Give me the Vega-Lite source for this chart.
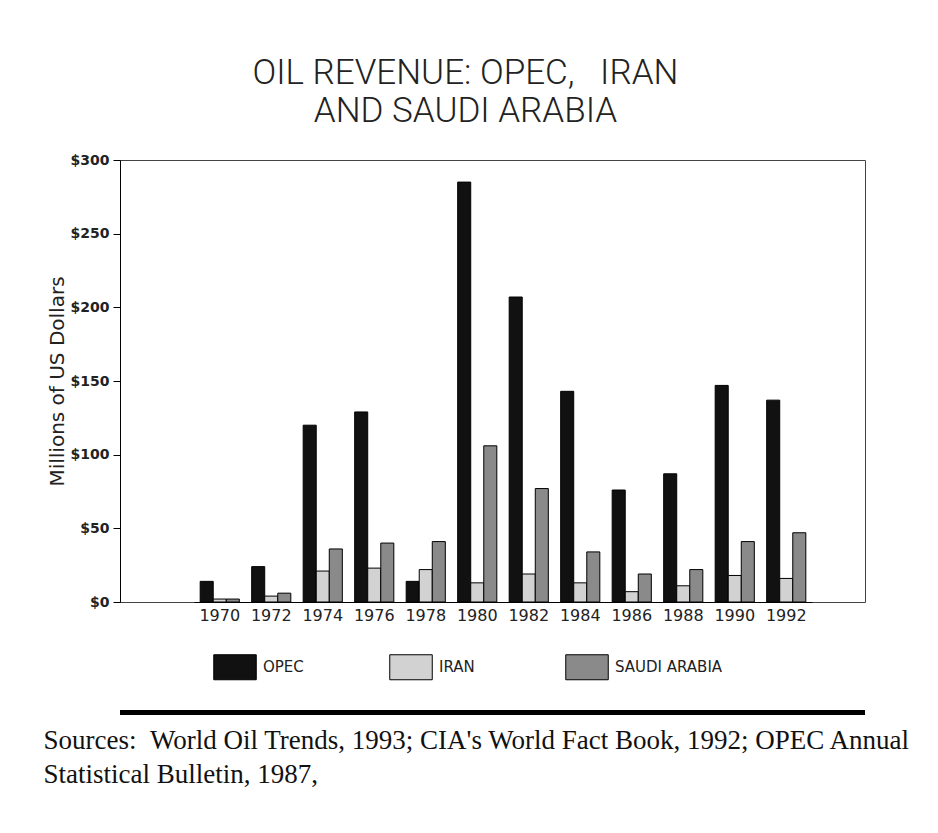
{
  "$schema": "https://vega.github.io/schema/vega-lite/v6.json",
  "autosize": {"type": "none"},
  "width": 745,
  "height": 442,
  "padding": {"left": 120, "top": 160, "right": 73, "bottom": 231},
  "background": "white",
  "title": {
    "text": ["OIL REVENUE: OPEC,\u00a0\u00a0 IRAN", "AND SAUDI ARABIA"],
    "font": "Roboto",
    "fontSize": 35,
    "fontWeight": 300,
    "lineHeight": 38,
    "anchor": "middle",
    "dx": -27,
    "offset": 24,
    "color": "#222222"
  },
  "config": {
    "view": {"stroke": "#444444", "strokeWidth": 1},
    "axis": {"domainColor": "black", "tickColor": "black", "labelColor": "#222222", "titleColor": "#222222", "grid": false}
  },
  "data": {
    "values": [
      {"year": "1970", "series": "OPEC", "value": 14},
      {"year": "1970", "series": "IRAN", "value": 2},
      {"year": "1970", "series": "SAUDI ARABIA", "value": 2},
      {"year": "1972", "series": "OPEC", "value": 24},
      {"year": "1972", "series": "IRAN", "value": 4},
      {"year": "1972", "series": "SAUDI ARABIA", "value": 6},
      {"year": "1974", "series": "OPEC", "value": 120},
      {"year": "1974", "series": "IRAN", "value": 21},
      {"year": "1974", "series": "SAUDI ARABIA", "value": 36},
      {"year": "1976", "series": "OPEC", "value": 129},
      {"year": "1976", "series": "IRAN", "value": 23},
      {"year": "1976", "series": "SAUDI ARABIA", "value": 40},
      {"year": "1978", "series": "OPEC", "value": 14},
      {"year": "1978", "series": "IRAN", "value": 22},
      {"year": "1978", "series": "SAUDI ARABIA", "value": 41},
      {"year": "1980", "series": "OPEC", "value": 285},
      {"year": "1980", "series": "IRAN", "value": 13},
      {"year": "1980", "series": "SAUDI ARABIA", "value": 106},
      {"year": "1982", "series": "OPEC", "value": 207},
      {"year": "1982", "series": "IRAN", "value": 19},
      {"year": "1982", "series": "SAUDI ARABIA", "value": 77},
      {"year": "1984", "series": "OPEC", "value": 143},
      {"year": "1984", "series": "IRAN", "value": 13},
      {"year": "1984", "series": "SAUDI ARABIA", "value": 34},
      {"year": "1986", "series": "OPEC", "value": 76},
      {"year": "1986", "series": "IRAN", "value": 7},
      {"year": "1986", "series": "SAUDI ARABIA", "value": 19},
      {"year": "1988", "series": "OPEC", "value": 87},
      {"year": "1988", "series": "IRAN", "value": 11},
      {"year": "1988", "series": "SAUDI ARABIA", "value": 22},
      {"year": "1990", "series": "OPEC", "value": 147},
      {"year": "1990", "series": "IRAN", "value": 18},
      {"year": "1990", "series": "SAUDI ARABIA", "value": 41},
      {"year": "1992", "series": "OPEC", "value": 137},
      {"year": "1992", "series": "IRAN", "value": 16},
      {"year": "1992", "series": "SAUDI ARABIA", "value": 47}
    ]
  },
  "layer": [
    {
      "mark": {"type": "bar", "stroke": "black", "strokeWidth": 1},
      "encoding": {
        "x": {
          "field": "year",
          "type": "ordinal",
          "scale": {"range": [74, 692], "paddingInner": 0.24, "paddingOuter": 0.12},
          "axis": {
            "title": ["Sources:\u00a0\u00a0World Oil Trends, 1993; CIA's World Fact Book, 1992; OPEC Annual", "Statistical Bulletin, 1987,"],
            "titleFont": "Liberation Serif",
            "titleFontSize": 27,
            "titleFontWeight": "normal",
            "titleX": -77,
            "titleY": 146,
            "titleAlign": "left",
            "titleBaseline": "alphabetic",
            "titleLineHeight": 34,
            "titleColor": "#111111",
            "labelAngle": 0,
            "labelFont": "DejaVu Sans",
            "labelFontSize": 16,
            "labelPadding": 5,
            "ticks": false
          }
        },
        "xOffset": {"field": "series", "sort": ["OPEC", "IRAN", "SAUDI ARABIA"]},
        "y": {
          "field": "value",
          "type": "quantitative",
          "scale": {"domain": [0, 300]},
          "axis": {
            "title": "Millions of US Dollars",
            "titleFont": "DejaVu Sans",
            "titleFontSize": 20,
            "titleFontWeight": "normal",
            "titlePadding": 3,
            "values": [0, 50, 100, 150, 200, 250, 300],
            "labelExpr": "'$' + datum.value",
            "labelFont": "DejaVu Sans",
            "labelFontSize": 14,
            "labelFontWeight": "bold",
            "labelPadding": 4,
            "tickSize": 7
          }
        },
        "color": {
          "field": "series",
          "type": "nominal",
          "sort": ["OPEC", "IRAN", "SAUDI ARABIA"],
          "scale": {"domain": ["OPEC", "IRAN", "SAUDI ARABIA"], "range": ["#111111", "#d2d2d2", "#8a8a8a"]},
          "legend": {
            "orient": "none",
            "legendX": 102,
            "legendY": 494,
            "direction": "horizontal",
            "title": null,
            "symbolType": "M-1.7,-1H1.7V1H-1.7Z",
            "symbolSize": 625,
            "symbolStrokeColor": "black",
            "symbolStrokeWidth": 1,
            "symbolOpacity": 1,
            "labelFont": "DejaVu Sans",
            "labelFontSize": 15,
            "labelOffset": 15,
            "columnPadding": 16,
            "gridAlign": "all",
            "labelColor": "#222222"
          }
        }
      }
    },
    {
      "data": {"values": [{}]},
      "mark": {"type": "rule", "strokeWidth": 5, "color": "black"},
      "encoding": {"y": {"datum": -75, "type": "quantitative"}}
    }
  ]
}
